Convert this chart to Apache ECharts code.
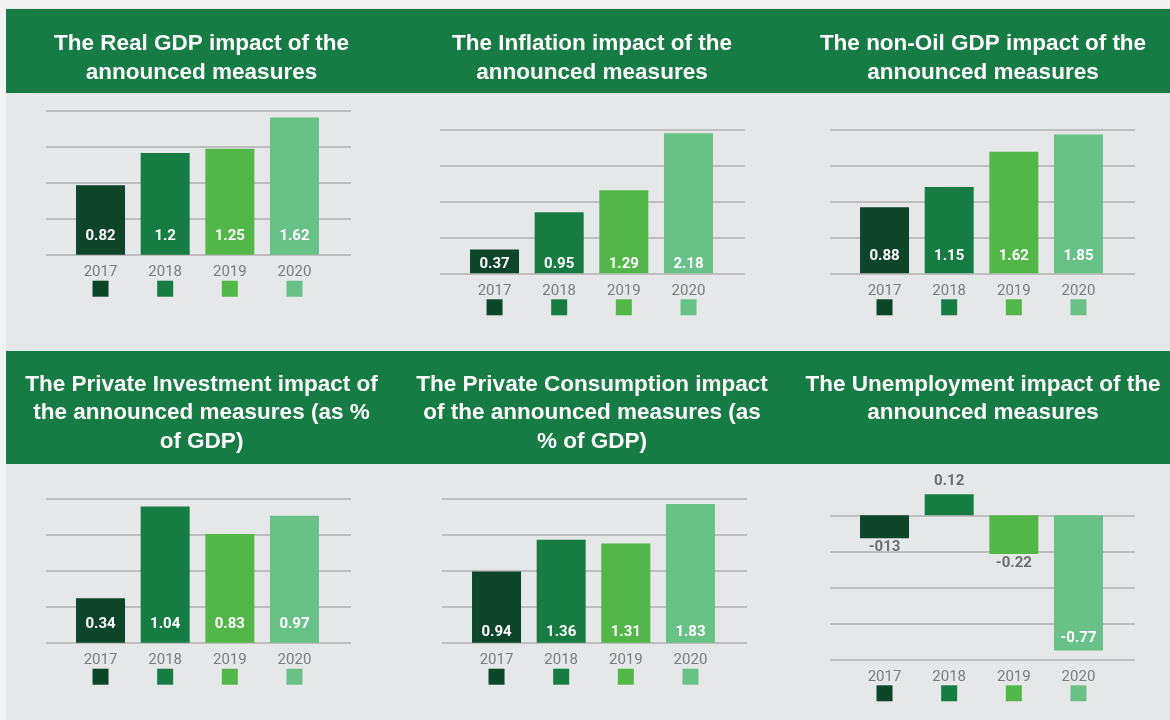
<!DOCTYPE html>
<html>
<head>
<meta charset="utf-8">
<script src="https://cdn.jsdelivr.net/npm/echarts@6/dist/echarts.min.js"></script>
<style>
  html, body { margin: 0; padding: 0; background: #f3f3f3; }
  #chart { width: 1170px; height: 720px; }
</style>
</head>
<body>
<div id="chart"></div>
<script>
// ---- data ----
const years = ['2017', '2018', '2019', '2020'];
const realGdp = [0.82, 1.2, 1.25, 1.62];
const inflation = [0.37, 0.95, 1.29, 2.18];
const nonOilGdp = [0.88, 1.15, 1.62, 1.85];
const privateInvestment = [0.34, 1.04, 0.83, 0.97];
const privateConsumption = [0.94, 1.36, 1.31, 1.83];
const unemployment = [-0.13, 0.12, -0.22, -0.77];
const unemploymentLabels = ['-013', '0.12', '-0.22', '-0.77'];
const panelTitles = [
  'The Real GDP impact of the\nannounced measures',
  'The Inflation impact of the\nannounced measures',
  'The non-Oil GDP impact of the\nannounced measures',
  'The Private Investment impact of\nthe announced measures (as %\nof GDP)',
  'The Private Consumption impact\nof the announced measures (as\n% of GDP)',
  'The Unemployment impact of the\nannounced measures'
];

// ---- styling ----
const yearColors = ['#0d452a', '#167c43', '#52b748', '#68c186'];
const headerGreen = '#167b44';
const panelGrey = '#e6e7e8';
const gridGrey = '#b1b1b1';
const textGrey = '#7d7d7d';
const labelGrey = '#6d6e70';
const numFont = 'Roboto, "DejaVu Sans", sans-serif';
const titleFont = '"Liberation Sans", Arial, sans-serif';

// panel placement: gridline box (left, top), axis range and label offset
const panels = [
  { values: realGdp,            x0: 46,  y0: 110.7, min: 0, max: 1.7,  labelDist: 11, tx: 201.5, ty: 30 },
  { values: inflation,          x0: 440, y0: 129.3, min: 0, max: 2.24, labelDist: 2,  tx: 592,   ty: 30 },
  { values: nonOilGdp,          x0: 830, y0: 129.3, min: 0, max: 1.92, labelDist: 10, tx: 983,   ty: 30 },
  { values: privateInvestment,  x0: 46,  y0: 498.7, min: 0, max: 1.1,  labelDist: 11, tx: 201.5, ty: 370.5 },
  { values: privateConsumption, x0: 442, y0: 498.7, min: 0, max: 1.9,  labelDist: 3,  tx: 592,   ty: 370.5 },
  { values: unemployment,       x0: 830, y0: 515.3, min: -0.82, max: 0, labelDist: 5, tx: 983,   ty: 370.5,
    labels: unemploymentLabels, headroom: 0.2 }
];

const GRID_W = 305, GRID_H = 144, BAND_INSET = 22.2, BAND_W = 258.6, BAR_W = 49;

const grid = [], xAxis = [], yAxis = [], series = [], title = [];

const squareRich = {};
yearColors.forEach((c, i) => {
  squareRich['s' + i] = { width: 16, height: 16, lineHeight: 16, backgroundColor: c };
});

panels.forEach((p, k) => {
  const span = p.max - p.min;
  const pxPerUnit = GRID_H / span;
  const head = p.headroom || 0;
  const headPx = head * pxPerUnit;

  // wide grid carrying the horizontal rules
  grid.push({ left: p.x0, top: p.y0, width: GRID_W, height: GRID_H });
  xAxis.push({ type: 'category', gridIndex: 2 * k, data: years, show: false });
  yAxis.push({
    type: 'value', gridIndex: 2 * k, min: p.min, max: p.max, interval: span / 4,
    axisLabel: { show: false }, axisLine: { show: false }, axisTick: { show: false },
    splitLine: { show: true, lineStyle: { color: gridGrey, width: 1.5 } }
  });

  // narrower grid carrying the bars and year labels
  grid.push({ left: p.x0 + BAND_INSET, top: p.y0 - headPx, width: BAND_W, height: GRID_H + headPx });
  xAxis.push({
    type: 'category', gridIndex: 2 * k + 1, data: years, position: 'bottom',
    axisLine: { show: false, onZero: false }, axisTick: { show: false },
    axisLabel: {
      interval: 0, margin: 9,
      formatter: (v, i) => '{y|' + v + '}\n{s' + i + '| }',
      rich: Object.assign({
        y: { fontSize: 15, lineHeight: 17, color: textGrey, fontFamily: numFont }
      }, squareRich)
    }
  });
  yAxis.push({
    type: 'value', gridIndex: 2 * k + 1, min: p.min, max: p.max + head, show: false,
    splitLine: { show: false }
  });

  const data = p.values.map((v, i) => {
    const item = { value: v, itemStyle: { color: yearColors[i] } };
    if (p.labels) {
      if (v < -0.5) item.label = { position: 'insideBottom', color: '#ffffff', distance: 5 };
      else if (v < 0) item.label = { position: 'bottom', color: labelGrey, distance: 2 };
      else item.label = { position: 'top', color: labelGrey, distance: 5 };
    }
    return item;
  });

  series.push({
    type: 'bar', xAxisIndex: 2 * k + 1, yAxisIndex: 2 * k + 1,
    barWidth: BAR_W, data: data, silent: true,
    label: {
      show: true, position: 'insideBottom', distance: p.labelDist,
      color: '#ffffff', fontSize: 15, fontWeight: 'bold', fontFamily: numFont,
      formatter: (prm) => p.labels ? p.labels[prm.dataIndex] : String(prm.value)
    }
  });

  title.push({
    text: panelTitles[k], left: p.tx, top: p.ty, textAlign: 'center', padding: 0,
    textStyle: { color: '#ffffff', fontSize: 22.5, fontWeight: 'bold', fontFamily: titleFont, lineHeight: 28.5 }
  });
});

const chart = echarts.init(document.getElementById('chart'), null, { renderer: 'canvas' });
chart.setOption({
  animation: false,
  backgroundColor: '#f3f3f3',
  graphic: [
    { type: 'rect', z: -10, shape: { x: 6, y: 8, width: 1164, height: 712 }, style: { fill: panelGrey } },
    { type: 'rect', z: -9, shape: { x: 6, y: 9, width: 1164, height: 84 }, style: { fill: headerGreen } },
    { type: 'rect', z: -9, shape: { x: 6, y: 351, width: 1164, height: 113 }, style: { fill: headerGreen } }
  ],
  title: title,
  grid: grid,
  xAxis: xAxis,
  yAxis: yAxis,
  series: series
});
</script>
</body>
</html>
